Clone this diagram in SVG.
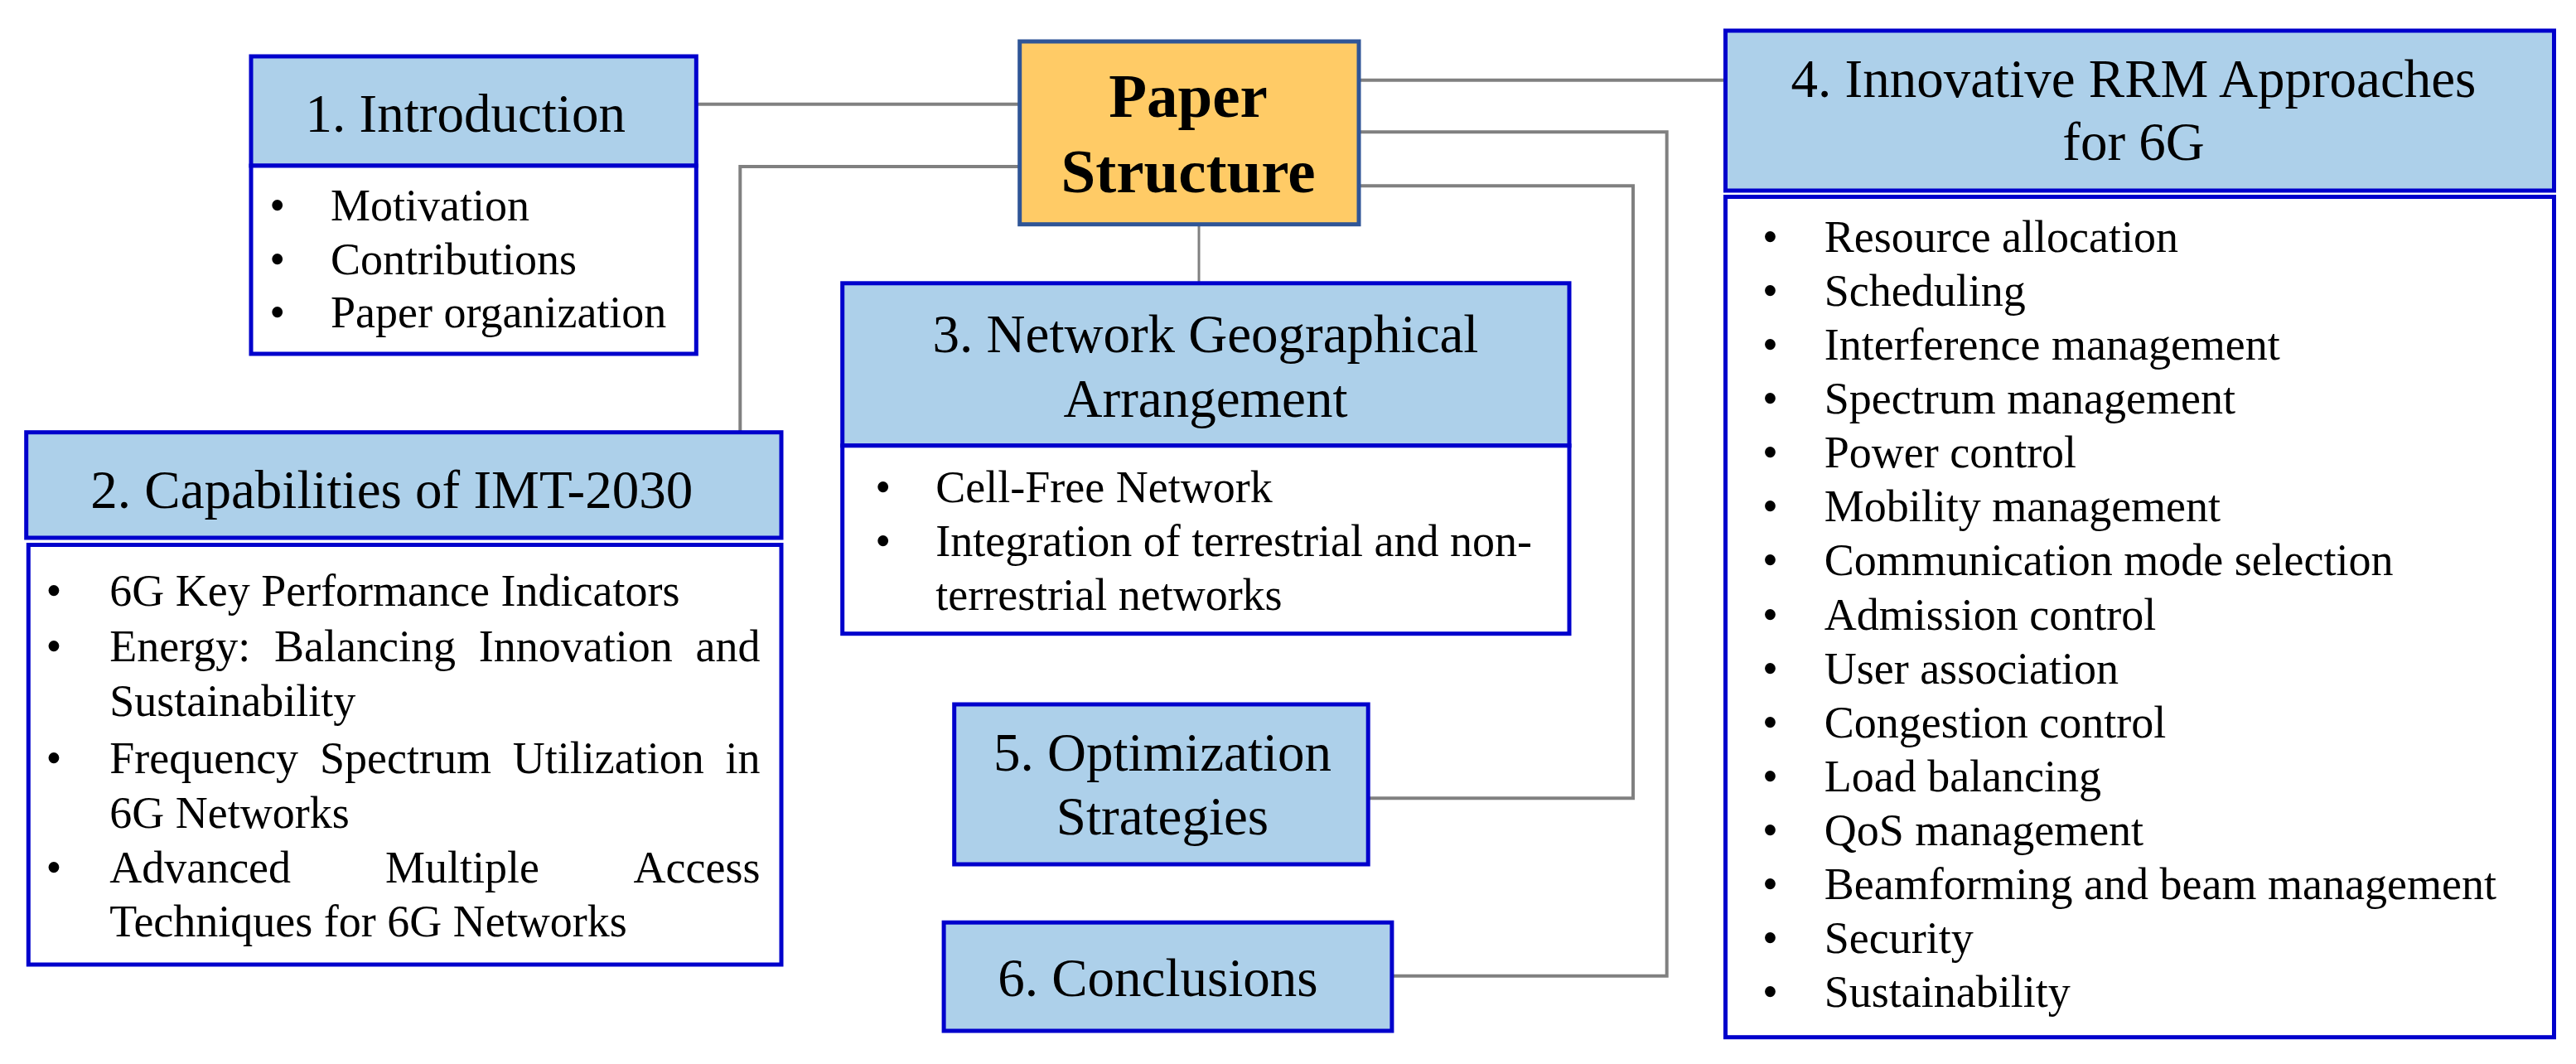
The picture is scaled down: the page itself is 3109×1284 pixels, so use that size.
<svg xmlns="http://www.w3.org/2000/svg" width="3109" height="1284" viewBox="0 0 3109 1284">
<style>
.hd{fill:#ADD0EA;stroke:#0000CC;stroke-width:5}
.bd{fill:#FFFFFF;stroke:#0000CC;stroke-width:5}
.ps{fill:#FFCB66;stroke:#2F5597;stroke-width:5}
.ht{font-family:"Liberation Serif","Times New Roman",serif;font-size:65px;fill:#000}
.bt{font-family:"Liberation Serif","Times New Roman",serif;font-size:54px;fill:#000}
.pt{font-family:"Liberation Serif","Times New Roman",serif;font-size:75px;font-weight:bold;fill:#000}
.c{fill:none;stroke:#808080;stroke-width:4}
</style>
<rect width="3109" height="1284" fill="#FFFFFF"/>
<g id="connectors">
<path class="c" d="M840,125.7 H1231"/>
<path class="c" d="M1231,201 H893.3 V522"/>
<path class="c" d="M1640,96.7 H2082.5"/>
<path class="c" d="M1640,159.3 H2011.7 V1177.7 H1680"/>
<path class="c" d="M1640,224.3 H1971 V963.3 H1651"/>
<path class="c" style="stroke-width:3" d="M1447,271 V342"/>
</g>
<g id="paper-structure">
<rect class="ps" x="1230.7" y="50" width="409.3" height="220.7"/>
<text class="pt" x="1434" y="141" text-anchor="middle">Paper</text>
<text class="pt" x="1434" y="232" text-anchor="middle">Structure</text>
</g>
<g id="introduction">
<rect class="hd" x="303" y="68" width="537.3" height="132"/>
<rect class="bd" x="303" y="200" width="537.3" height="227"/>
<text class="ht" x="368.6" y="158.7">1. Introduction</text>
<text class="bt" x="334.6" y="265.7" text-anchor="middle">•</text>
<text class="bt" x="399" y="265.7">Motivation</text>
<text class="bt" x="334.6" y="330.5" text-anchor="middle">•</text>
<text class="bt" x="399" y="330.5">Contributions</text>
<text class="bt" x="334.6" y="395.4" text-anchor="middle">•</text>
<text class="bt" x="399" y="395.4">Paper organization</text>
</g>
<g id="capabilities">
<rect class="hd" x="31.7" y="521.7" width="911.3" height="127.3"/>
<rect class="bd" x="34.3" y="657.5" width="908.7" height="506.5"/>
<text class="ht" x="109.3" y="613.3">2. Capabilities of IMT-2030</text>
<text class="bt" x="65" y="731" text-anchor="middle">•</text>
<text class="bt" x="132.2" y="731">6G Key Performance Indicators</text>
<text class="bt" x="65" y="798" text-anchor="middle">•</text>
<text class="bt" y="798"><tspan x="132.2">Energy:</tspan><tspan x="331">Balancing</tspan><tspan x="577.8">Innovation</tspan><tspan x="839.6">and</tspan></text>
<text class="bt" x="132.2" y="864">Sustainability</text>
<text class="bt" x="65" y="933" text-anchor="middle">•</text>
<text class="bt" y="933"><tspan x="132.2">Frequency</tspan><tspan x="386">Spectrum</tspan><tspan x="618.8">Utilization</tspan><tspan x="875.6">in</tspan></text>
<text class="bt" x="132.2" y="999">6G Networks</text>
<text class="bt" x="65" y="1065" text-anchor="middle">•</text>
<text class="bt" y="1065"><tspan x="132.2">Advanced</tspan><tspan x="464.9">Multiple</tspan><tspan x="764.6">Access</tspan></text>
<text class="bt" x="132.2" y="1130">Techniques for 6G Networks</text>
</g>
<g id="network-geo">
<rect class="hd" x="1016.7" y="341.8" width="877.3" height="196"/>
<rect class="bd" x="1016.7" y="537.8" width="877.3" height="226.9"/>
<text class="ht" x="1455" y="424.7" text-anchor="middle">3. Network Geographical</text>
<text class="ht" x="1455" y="503.3" text-anchor="middle">Arrangement</text>
<text class="bt" x="1065.7" y="606.2" text-anchor="middle">•</text>
<text class="bt" x="1129.3" y="606.2">Cell-Free Network</text>
<text class="bt" x="1065.7" y="670.9" text-anchor="middle">•</text>
<text class="bt" x="1129.3" y="670.9">Integration of terrestrial and non-</text>
<text class="bt" x="1129.3" y="736.2">terrestrial networks</text>
</g>
<g id="rrm">
<rect class="hd" x="2082.5" y="37" width="1000" height="193"/>
<rect class="bd" x="2082.5" y="237.5" width="1000" height="1014.2"/>
<text class="ht" x="2575" y="116.7" text-anchor="middle">4. Innovative RRM Approaches</text>
<text class="ht" x="2575" y="193.3" text-anchor="middle">for 6G</text>
<g class="bt">
<text x="2136.4" y="304.2" text-anchor="middle">•</text><text x="2201.7" y="304.2">Resource allocation</text>
<text x="2136.4" y="369.2" text-anchor="middle">•</text><text x="2201.7" y="369.2">Scheduling</text>
<text x="2136.4" y="434.3" text-anchor="middle">•</text><text x="2201.7" y="434.3">Interference management</text>
<text x="2136.4" y="499.3" text-anchor="middle">•</text><text x="2201.7" y="499.3">Spectrum management</text>
<text x="2136.4" y="564.4" text-anchor="middle">•</text><text x="2201.7" y="564.4">Power control</text>
<text x="2136.4" y="629.4" text-anchor="middle">•</text><text x="2201.7" y="629.4">Mobility management</text>
<text x="2136.4" y="694.4" text-anchor="middle">•</text><text x="2201.7" y="694.4">Communication mode selection</text>
<text x="2136.4" y="759.5" text-anchor="middle">•</text><text x="2201.7" y="759.5">Admission control</text>
<text x="2136.4" y="824.5" text-anchor="middle">•</text><text x="2201.7" y="824.5">User association</text>
<text x="2136.4" y="889.6" text-anchor="middle">•</text><text x="2201.7" y="889.6">Congestion control</text>
<text x="2136.4" y="954.6" text-anchor="middle">•</text><text x="2201.7" y="954.6">Load balancing</text>
<text x="2136.4" y="1019.6" text-anchor="middle">•</text><text x="2201.7" y="1019.6">QoS management</text>
<text x="2136.4" y="1084.7" text-anchor="middle">•</text><text x="2201.7" y="1084.7">Beamforming and beam management</text>
<text x="2136.4" y="1149.7" text-anchor="middle">•</text><text x="2201.7" y="1149.7">Security</text>
<text x="2136.4" y="1214.8" text-anchor="middle">•</text><text x="2201.7" y="1214.8">Sustainability</text>
</g>
</g>
<g id="optimization">
<rect class="hd" x="1151.7" y="850" width="499.5" height="193"/>
<text class="ht" x="1403" y="929.9" text-anchor="middle">5. Optimization</text>
<text class="ht" x="1403" y="1007.3" text-anchor="middle">Strategies</text>
</g>
<g id="conclusions">
<rect class="hd" x="1139.1" y="1113.2" width="540.8" height="130.8"/>
<text class="ht" x="1204.2" y="1202.1">6. Conclusions</text>
</g>
</svg>
